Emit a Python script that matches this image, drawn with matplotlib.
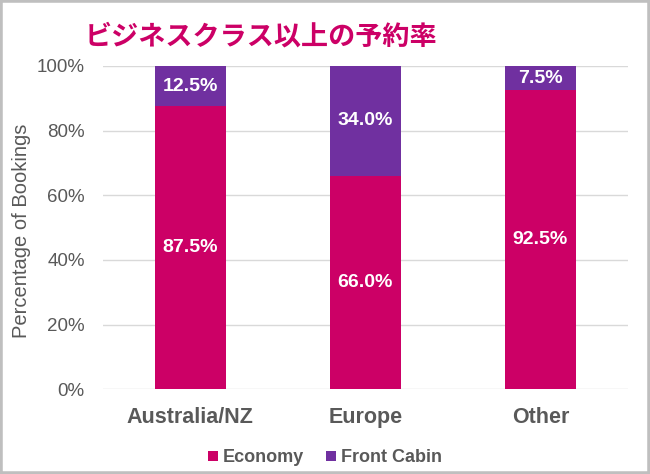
import numpy as np
import matplotlib.pyplot as plt
from matplotlib.patches import Rectangle

plt.rcParams['font.family'] = ['Liberation Sans', 'Noto Sans CJK JP', 'DejaVu Sans']

regions = ['Australia/NZ', 'Europe', 'Other']
economy = [87.5, 66.0, 92.5]
front_cabin = [12.5, 34.0, 7.5]
yticks = [0, 20, 40, 60, 80, 100]

c_eco = '#CC0066'
c_front = '#7030A0'
gray = '#595959'

fig = plt.figure(figsize=(6.5, 4.74), dpi=100)
ax = fig.add_axes([0.158, 0.179, 0.808, 0.682])

x = np.arange(len(regions))
w = 0.405
b1 = ax.bar(x, economy, w, color=c_eco, label='Economy', zorder=3)
b2 = ax.bar(x, front_cabin, w, bottom=economy, color=c_front, label='Front Cabin', zorder=3)

for i in range(len(regions)):
    ax.text(x[i], economy[i] / 2, f'{economy[i]:.1f}%', ha='center', va='center',
            color='white', fontsize=14, fontweight='bold', zorder=4)
    ax.text(x[i], economy[i] + front_cabin[i] / 2, f'{front_cabin[i]:.1f}%', ha='center',
            va='center', color='white', fontsize=14, fontweight='bold', zorder=4)

ax.set_xlim(-0.5, 2.5)
ax.set_ylim(0, 100)
ax.set_yticks(yticks)
ax.set_yticklabels([f'{t}%' for t in yticks], color=gray, fontsize=13.5)
ax.set_xticks(x)
ax.set_xticklabels(regions, color=gray, fontsize=15.5, fontweight='bold')
ax.tick_params(axis='y', length=0, pad=13)
ax.tick_params(axis='x', length=0, pad=13)
ax.grid(axis='y', color='#d9d9d9', linewidth=1, zorder=0)
for s in ax.spines.values():
    s.set_visible(False)
ax.set_ylabel('Percentage of Bookings', color=gray, fontsize=14.5)
ax.yaxis.set_label_coords(-0.137, 0.49)

fig.legend(handles=[b1, b2], loc='center', bbox_to_anchor=(0.5, 0.034), ncol=2,
           frameon=False, handlelength=0.55, handleheight=0.55, handletextpad=0.3,
           columnspacing=1.2, prop={'size': 13, 'weight': 'bold'}, labelcolor=gray)

fig.text(0.402, 0.922, 'ビジネスクラス以上の予約率', ha='center', va='center',
         color=c_eco, fontsize=19.5, fontweight='bold', family=['Noto Sans CJK JP'])

fig.patches.append(Rectangle((0, 0), 1, 1, transform=fig.transFigure, fill=False,
                             edgecolor='#bfbfbf', linewidth=4))

fig.savefig('out.png', dpi=100)
